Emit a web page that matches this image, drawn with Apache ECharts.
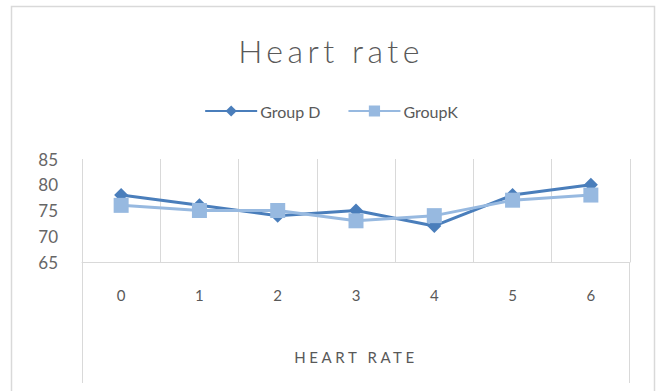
<!DOCTYPE html>
<html>
<head>
<meta charset="utf-8">
<title>Heart rate</title>
<script src="https://cdn.jsdelivr.net/npm/echarts@6/dist/echarts.min.js"></script>
<style>
  html, body { margin: 0; padding: 0; background: #ffffff; }
  #chart { width: 662px; height: 391px; }
</style>
</head>
<body>
<div id="chart"></div>
<script>
// Time points along the category axis
const categories = ['0', '1', '2', '3', '4', '5', '6'];
// Mean heart rate per group
const groupD = [78, 76, 74, 75, 72, 78, 80];
const groupK = [76, 75, 75, 73, 74, 77, 78];
// Value-axis range and step
const yMin = 65, yMax = 85, yStep = 5;

const W = 662, H = 391;
const GRID_LEFT = 82, GRID_RIGHT = 32, GRID_TOP = 159, GRID_HEIGHT = 103;
const LINE_GREY = '#d9d9d9';
const TEXT_GREY = '#595959';
const FONT = 'Lato, "Open Sans", Roboto, sans-serif';

const chart = echarts.init(document.getElementById('chart'), null, { renderer: 'svg' });

const axisBottom = GRID_TOP + GRID_HEIGHT;
const gridRightX = W - GRID_RIGHT;

chart.setOption({
  animation: false,
  backgroundColor: '#ffffff',
  title: {
    text: 'Heart rate',
    left: 'center',
    top: 29,
    textStyle: { fontFamily: FONT, fontSize: 32, fontWeight: 300, color: TEXT_GREY }
  },
  legend: {
    data: ['Group D', 'GroupK'],
    left: 'center',
    top: 98,
    itemWidth: 52,
    itemHeight: 14,
    itemGap: 27,
    textStyle: { fontFamily: FONT, fontSize: 16, color: TEXT_GREY, padding: [0, 0, 0, -2] }
  },
  grid: { left: GRID_LEFT, right: GRID_RIGHT, top: GRID_TOP, height: GRID_HEIGHT },
  xAxis: {
    type: 'category',
    data: categories,
    boundaryGap: true,
    name: 'HEART RATE',
    nameLocation: 'middle',
    nameGap: 87,
    nameTextStyle: { fontFamily: FONT, fontSize: 15, color: TEXT_GREY },
    axisLine: { show: true, lineStyle: { color: LINE_GREY, width: 1 } },
    axisTick: { show: false },
    axisLabel: { margin: 25, fontFamily: FONT, fontSize: 15, color: TEXT_GREY },
    splitLine: { show: true, interval: 0, lineStyle: { color: LINE_GREY, width: 1 } }
  },
  yAxis: {
    type: 'value',
    min: yMin,
    max: yMax,
    interval: yStep,
    axisLine: { show: false },
    axisTick: { show: false },
    splitLine: { show: false },
    axisLabel: { margin: 24, fontFamily: FONT, fontSize: 17, color: '#666666' }
  },
  series: [
    {
      name: 'Group D',
      type: 'line',
      data: groupD,
      symbol: 'diamond',
      symbolSize: 14,
      color: '#4a7ebb',
      lineStyle: { width: 3, color: '#4a7ebb' },
      itemStyle: { color: '#4a7ebb' }
    },
    {
      name: 'GroupK',
      type: 'line',
      data: groupK,
      symbol: 'rect',
      symbolSize: 15,
      color: '#97b9e0',
      lineStyle: { width: 3, color: '#97b9e0' },
      itemStyle: { color: '#97b9e0' }
    }
  ],
  graphic: [
    {
      type: 'rect',
      silent: true,
      z: -10,
      shape: { x: 11.5, y: 6.5, width: 643, height: 400 },
      style: { fill: 'none', stroke: LINE_GREY, lineWidth: 1.5 }
    },
    {
      type: 'line',
      silent: true,
      shape: { x1: GRID_LEFT + 0.5, y1: axisBottom, x2: GRID_LEFT + 0.5, y2: 383 },
      style: { stroke: LINE_GREY, lineWidth: 1 }
    },
    {
      type: 'line',
      silent: true,
      shape: { x1: gridRightX - 0.5, y1: axisBottom, x2: gridRightX - 0.5, y2: 383 },
      style: { stroke: LINE_GREY, lineWidth: 1 }
    }
  ]
});

// Wide tracking on the chart title and the axis title
function spaceOut() {
  const spacing = { 'Heart rate': '4.5px', 'HEART RATE': '3.6px' };
  document.querySelectorAll('#chart text').forEach(function (t) {
    const s = spacing[t.textContent];
    if (s) {
      t.setAttribute('letter-spacing', s);
      t.style.letterSpacing = s;
    }
  });
}
spaceOut();
chart.on('finished', spaceOut);
</script>
</body>
</html>
